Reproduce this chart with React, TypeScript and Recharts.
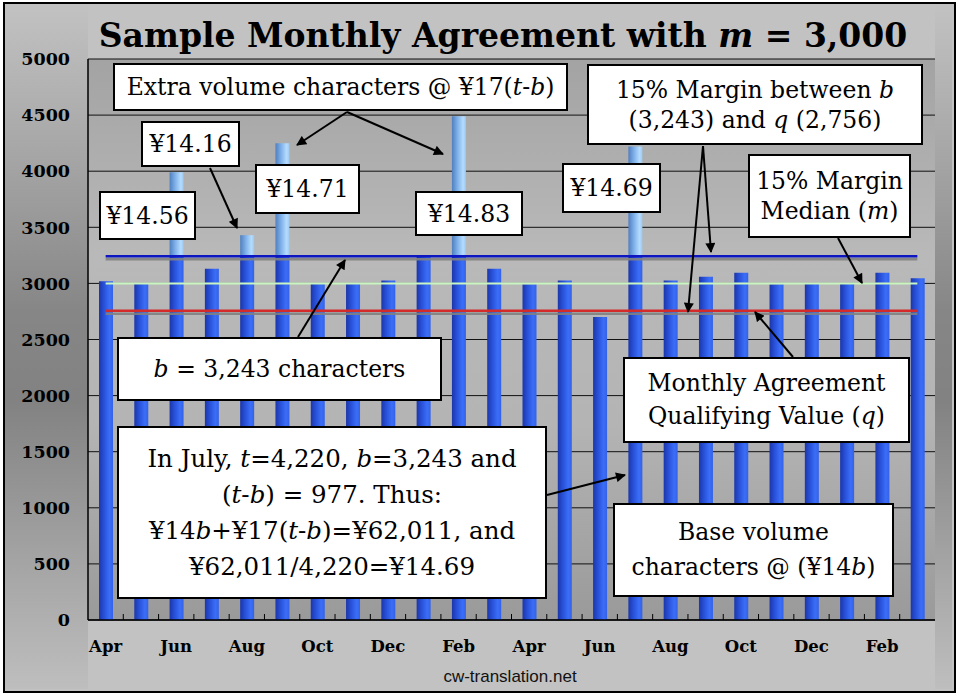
import React from 'react'
import { ComposedChart, Bar, Line, XAxis, YAxis, CartesianGrid } from 'recharts'

// two fiscal years, Apr..Mar
const months = [
  'Apr', 'May', 'Jun', 'Jul', 'Aug', 'Sep', 'Oct', 'Nov', 'Dec', 'Jan', 'Feb', 'Mar',
  'Apr', 'May', 'Jun', 'Jul', 'Aug', 'Sep', 'Oct', 'Nov', 'Dec', 'Jan', 'Feb', 'Mar',
]
// total characters per month (t)
const totals = [
  3020, 2995, 3990, 3130, 3430, 4250, 2998, 2995, 3025, 3240, 4490, 3130,
  2992, 3025, 2700, 4220, 3025, 3060, 3095, 2992, 2995, 3000, 3095, 3045,
]
const bValue = 3243 // base volume b
const mValue = 3000 // median m
const qValue = 2756 // qualifying value q
const yTicks = [0, 500, 1000, 1500, 2000, 2500, 3000, 3500, 4000, 4500, 5000]

const data = months.map((month, i) => ({
  month,
  base: Math.min(totals[i], bValue),
  extra: Math.max(totals[i] - bValue, 0),
  b: bValue,
  m: mValue,
  q: qValue,
}))

const W = 964
const H = 695
const M = { top: 59, right: 29, left: 0, bottom: 0 }
const Y_AXIS_W = 88
const X_AXIS_H = 75
const BAND = (W - M.left - M.right - Y_AXIS_W) / months.length

const serif = '"DejaVu Serif", serif'

function MonthTick(props: any) {
  const { x, y, payload, index } = props
  return (
    <g>
      {index < months.length - 1 && (
        <line x1={x + BAND / 2} x2={x + BAND / 2} y1={y} y2={y - 6} stroke="#000" strokeWidth={1} />
      )}
      {index % 2 === 0 && (
        <text x={x} y={y + 32} textAnchor="middle" fontFamily={serif} fontWeight="bold" fontSize={16.5} fill="#000">
          {payload.value}
        </text>
      )}
    </g>
  )
}

type Box = { x: number; y: number; w: number; h: number; lh: number; fs?: number; lines: React.ReactNode[] }

const boxes: Box[] = [
  { x: 113, y: 63, w: 455, h: 48, lh: 28, lines: [<>Extra volume characters @ ¥17(<i>t</i>-<i>b</i>)</>] },
  { x: 141, y: 121, w: 99, h: 46, lh: 28, lines: ['¥14.16'] },
  { x: 99, y: 191, w: 97, h: 49, lh: 28, lines: ['¥14.56'] },
  { x: 255, y: 164, w: 105, h: 50, lh: 28, lines: ['¥14.71'] },
  { x: 415, y: 191, w: 108, h: 45, lh: 28, lines: ['¥14.83'] },
  { x: 562, y: 163, w: 99, h: 50, lh: 28, lines: ['¥14.69'] },
  {
    x: 587, y: 64, w: 336, h: 81, lh: 30,
    lines: [<>15% Margin between <i>b</i></>, <>(3,243) and <i>q</i> (2,756)</>],
  },
  { x: 748, y: 154, w: 163, h: 84, lh: 30, lines: ['15% Margin', <>Median (<i>m</i>)</>] },
  { x: 117, y: 337, w: 325, h: 64, lh: 28, lines: [<><i>b</i> = 3,243 characters</>] },
  {
    x: 117, y: 426, w: 430, h: 173, lh: 36, fs: 24.5,
    lines: [
      <>In July, <i>t</i>=4,220, <i>b</i>=3,243 and</>,
      <>(<i>t</i>-<i>b</i>) = 977. Thus:</>,
      <>¥14<i>b</i>+¥17(<i>t</i>-<i>b</i>)=¥62,011, and</>,
      '¥62,011/4,220=¥14.69',
    ],
  },
  { x: 623, y: 357, w: 287, h: 86, lh: 33, lines: ['Monthly Agreement', <>Qualifying Value (<i>q</i>)</>] },
  { x: 613, y: 503, w: 281, h: 94, lh: 35, lines: ['Base volume', <>characters @ (¥14<i>b</i>)</>] },
]

const arrows = [
  [347, 112, 297, 145],
  [347, 112, 443, 154],
  [210, 168, 237, 228],
  [298, 337, 345, 260],
  [703, 146, 711, 252],
  [703, 146, 688, 312],
  [838, 238, 862, 283],
  [793, 357, 755, 312],
  [547, 495, 625, 475],
]

const sideStrip =
  'linear-gradient(to bottom, #c2c2c2 0%, #a6a6a6 22%, #868686 45%, #828282 58%, #a2a2a2 80%, #bebebe 100%)'

export default function App() {
  return (
    <div style={{ position: 'relative', width: W, height: H, background: '#fff', overflow: 'hidden' }}>
      <style>{'body{margin:0}'}</style>
      <div
        style={{
          position: 'absolute', left: 3, top: 2, width: 949, height: 687,
          border: '2px solid #000', background: '#c2c2c2',
        }}
      />
      <div style={{ position: 'absolute', left: 5, top: 4, width: 83, height: 685, background: sideStrip }} />
      <div style={{ position: 'absolute', left: 935, top: 4, width: 17, height: 685, background: sideStrip }} />

      <div style={{ position: 'absolute', left: 0, top: 0 }}>
        <ComposedChart width={W} height={H} data={data} margin={M} barCategoryGap={0}>
          <defs>
            <linearGradient id="plotBg" x1="0" y1="0" x2="0" y2="1">
              <stop offset="0%" stopColor="#a3a3a3" />
              <stop offset="35%" stopColor="#b9b9b9" />
              <stop offset="65%" stopColor="#b4b4b4" />
              <stop offset="100%" stopColor="#9a9a9a" />
            </linearGradient>
            <linearGradient id="baseGrad" x1="0" y1="0" x2="1" y2="0">
              <stop offset="0%" stopColor="#1c36a8" />
              <stop offset="35%" stopColor="#2850d8" />
              <stop offset="75%" stopColor="#3b6ef8" />
              <stop offset="100%" stopColor="#3462e8" />
            </linearGradient>
            <linearGradient id="extraGrad" x1="0" y1="0" x2="1" y2="0">
              <stop offset="0%" stopColor="#4f7fbf" />
              <stop offset="40%" stopColor="#7fb0e8" />
              <stop offset="80%" stopColor="#b5dcff" />
              <stop offset="100%" stopColor="#9cc8f0" />
            </linearGradient>
            <filter id="lineShadow" filterUnits="userSpaceOnUse" x="0" y="0" width={W} height={H}>
              <feDropShadow dx="0" dy="3" stdDeviation="0.4" floodColor="#808080" floodOpacity="0.9" />
            </filter>
          </defs>
          <CartesianGrid vertical={false} stroke="#111" strokeWidth={1} fill="url(#plotBg)" fillOpacity={1} />
          <XAxis
            dataKey="month"
            interval={0}
            height={X_AXIS_H}
            tickSize={0}
            tickMargin={0}
            tickLine={false}
            axisLine={{ stroke: '#000', strokeWidth: 1.5 }}
            tick={<MonthTick />}
          />
          <YAxis
            width={Y_AXIS_W}
            domain={[0, 5000]}
            ticks={yTicks}
            interval={0}
            tickLine={false}
            tickSize={0}
            tickMargin={18}
            axisLine={{ stroke: '#000', strokeWidth: 1.5 }}
            tick={{ fontFamily: serif, fontWeight: 'bold', fontSize: 17.5, fill: '#000' }}
          />
          <Bar dataKey="base" stackId="t" barSize={14} fill="url(#baseGrad)" isAnimationActive={false} />
          <Bar dataKey="extra" stackId="t" barSize={14} fill="url(#extraGrad)" isAnimationActive={false} />
          <Line dataKey="b" type="linear" stroke="#0a14c0" strokeWidth={2.5} dot={false} activeDot={false}
            filter="url(#lineShadow)" isAnimationActive={false} />
          <Line dataKey="m" type="linear" stroke="#c8f5c0" strokeWidth={2} dot={false} activeDot={false}
            isAnimationActive={false} />
          <Line dataKey="q" type="linear" stroke="#d42a2a" strokeWidth={2.5} dot={false} activeDot={false}
            filter="url(#lineShadow)" isAnimationActive={false} />
        </ComposedChart>
      </div>

      {boxes.map((b, i) => (
        <div
          key={i}
          style={{
            position: 'absolute', left: b.x, top: b.y, width: b.w, height: b.h, boxSizing: 'border-box',
            border: '2px solid #000', background: '#fff', display: 'flex', flexDirection: 'column',
            justifyContent: 'center', alignItems: 'center', fontFamily: serif, fontSize: b.fs ?? 23.5,
            lineHeight: `${b.lh}px`, color: '#000', whiteSpace: 'nowrap',
          }}
        >
          {b.lines.map((l, j) => (
            <div key={j}>{l}</div>
          ))}
        </div>
      ))}

      <svg width={W} height={H} style={{ position: 'absolute', left: 0, top: 0, pointerEvents: 'none' }}>
        <defs>
          <marker id="head" viewBox="0 0 10 10" refX="9" refY="5" markerWidth="11" markerHeight="10"
            markerUnits="userSpaceOnUse" orient="auto">
            <path d="M0,0 L10,5 L0,10 z" fill="#000" />
          </marker>
        </defs>
        <text x={503} y={47} textAnchor="middle" fontFamily={serif} fontWeight="bold" fontSize={33} fill="#000">
          Sample Monthly Agreement with <tspan fontStyle="italic">m</tspan> = 3,000
        </text>
        <text x={510} y={682} textAnchor="middle" fontFamily='"Liberation Sans", Arial, sans-serif' fontSize={17} fill="#111">
          cw-translation.net
        </text>
        {arrows.map(([x1, y1, x2, y2], i) => (
          <line key={i} x1={x1} y1={y1} x2={x2} y2={y2} stroke="#000" strokeWidth={2} markerEnd="url(#head)" />
        ))}
      </svg>
    </div>
  )
}
